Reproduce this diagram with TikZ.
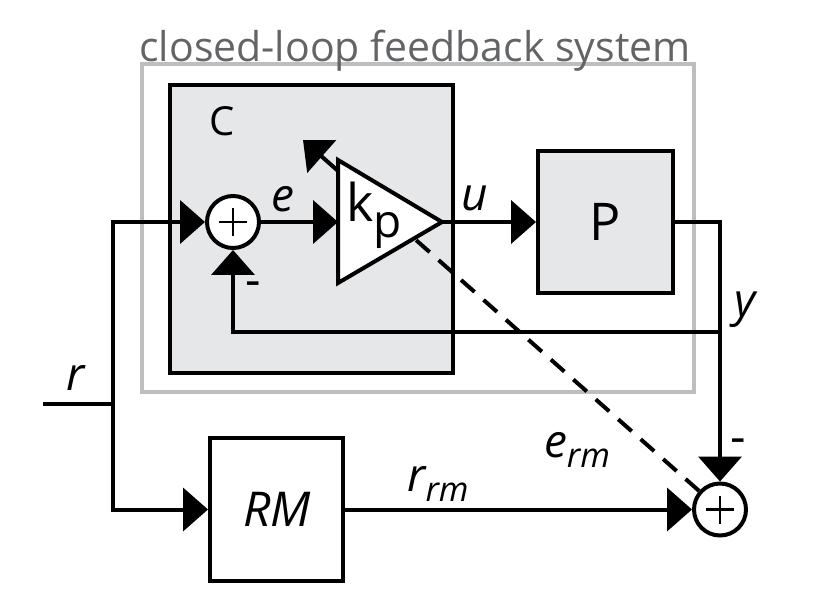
\documentclass[tikz,border=0pt]{standalone}
\usepackage{fontspec}
\setmainfont{Open Sans}
\usetikzlibrary{arrows.meta}
\definecolor{boxgray}{HTML}{E6E7E8}
\definecolor{loopgray}{HTML}{BCBEC0}
\definecolor{titlegray}{HTML}{636466}
\newcommand{\lbl}[1]{\fontsize{23}{26}\selectfont\itshape #1}
\newcommand{\subrm}[1]{\raisebox{-0.2em}{\fontsize{17}{20}\selectfont\itshape #1}}
\tikzset{
  signal/.style={
    line width=2pt,
    -{Triangle[length=12.5pt,width=21.5pt]}
  },
  wire/.style={
    line width=2pt
  },
  block/.style={
    draw,
    line width=2pt,
    rectangle,
    inner sep=0pt
  },
  summer/.style={
    draw,
    circle,
    fill=white,
    line width=2pt,
    minimum size=26pt,
    inner sep=0pt
  },
  adapt path/.style={
    line width=2pt,
    dash pattern=on 9pt off 6pt
  },
  minus sign/.style={
    font=\fontsize{24}{26}\selectfont
  }
}

\begin{document}
\begin{tikzpicture}[x=0.5pt,y=-0.5pt]
    \useasboundingbox (0,0) rectangle (823,598);

    % ---------- closed loop ----------
    \node[block,draw=loopgray,minimum width=276pt,minimum height=164pt]
      (loop) at (418,228) {};
    \node[text=titlegray,font=\fontsize{20.5}{24}\selectfont,anchor=base]
      (title) at (415,62) {closed-loop feedback system};

    % controller C
    \node[block,fill=boxgray,minimum width=141.5pt,minimum height=144pt]
      (ctrl) at (311.5,229) {};
    \node[font=\fontsize{20}{22}\selectfont] (clabel) at (222,121) {C};

    % plant P
    \node[block,fill=boxgray,minimum width=67.5pt,minimum height=71pt]
      (plant) at (605.5,222) {};
    \node[font=\fontsize{26}{30}\selectfont] (plabel) at (605.5,222) {P};

    % reference model
    \node[block,fill=white,minimum width=66.5pt,minimum height=71.5pt]
      (rm) at (276.5,509.5) {};
    \node[font=\fontsize{24}{28}\selectfont\itshape] (rmlabel) at (277,509) {RM};

    % ---------- summing points ----------
    \node[summer] (sum1) at (233,222) {};
    \node[summer] (sum2) at (720,509.5) {};

    % ---------- fixed points ----------
    \coordinate (rin) at (43,404);
    \coordinate (rsplit) at (113,404);
    \coordinate (ytap) at (720,332);
    \coordinate (gin) at (338,222);
    \coordinate (gout) at (442,222);
    \coordinate (tunebase) at (332,165.6);
    \coordinate (tunetip) at (303,140);

    % ---------- signals ----------
    \draw[wire] (rin) -- (rsplit);
    \draw[signal] (rsplit) |- (sum1.west);
    \draw[signal] (rsplit) |- (rm.west);
    \draw[signal] (sum1.east) -- (gin);
    \draw[signal] (gout) -- (plant.west);
    \draw[signal] (plant.east) -| (sum2.north);
    \draw[signal] (ytap) -| (sum1.south);
    \draw[signal] (rm.east) -- (rm.east -| sum2.west);

    % adaptation path e_rm -> k_p
    \draw[adapt path] (sum2) -- (tunebase);
    \draw[signal] (tunebase) -- (tunetip);

    % gain k_p
    \filldraw[fill=white,line width=2pt,line join=miter]
      (338,160) -- (gout) -- (338,283) -- cycle;
    \node[font=\fontsize{26}{30}\selectfont] (kp) at (374,215)
      {k\raisebox{-0.3em}{\fontsize{23}{26}\selectfont p}};

    % plus signs
    \foreach \s in {sum1,sum2}{
      \draw[line width=1.2pt]
        ([xshift=-7pt]\s.center) -- ([xshift=7pt]\s.center)
        ([yshift=-7pt]\s.center) -- ([yshift=7pt]\s.center);
    }

    % ---------- labels ----------
    \node (elabel) at (283,199) {\lbl{e}};
    \node (ulabel) at (475,198) {\lbl{u}};
    \node (ylabel) at (745,310) {\lbl{y}};
    \node (rlabel) at (76,378) {\lbl{r}};
    \node (rrmlabel) at (438,484) {\lbl{r}\subrm{rm}};
    \node (ermlabel) at (577,450) {\lbl{e}\subrm{rm}};
    \node[minus sign] (minus1) at (253,289) {-};
    \node[minus sign] (minus2) at (738,446) {-};

  \end{tikzpicture}
\end{document}
